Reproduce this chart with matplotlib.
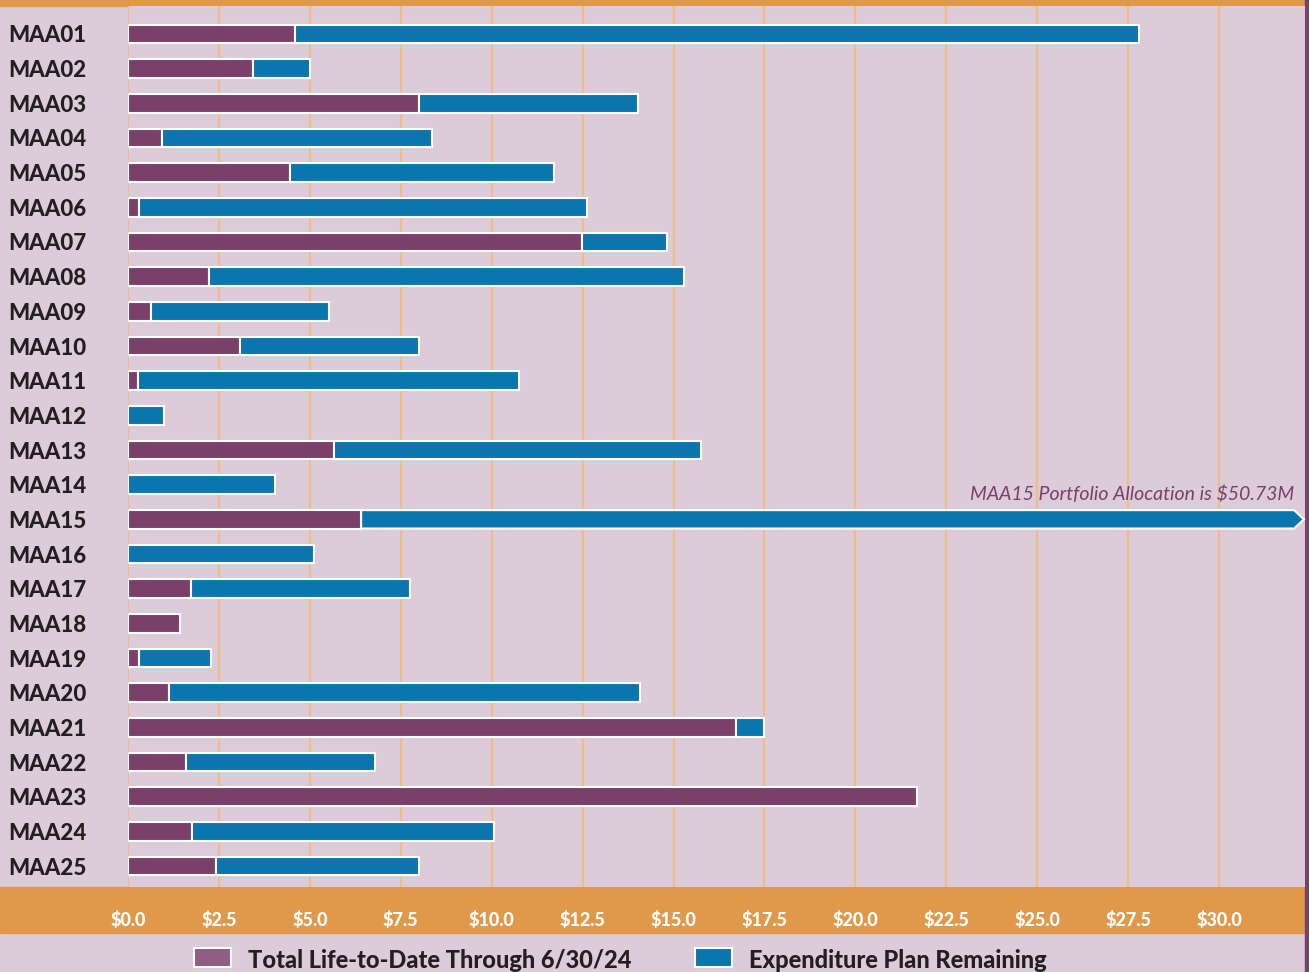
import matplotlib.pyplot as plt
from matplotlib.patches import Rectangle, Polygon

# data ($M)
projects = ["MAA%02d" % i for i in range(1, 26)]
life_to_date = [4.59, 3.44, 8.0, 0.93, 4.45, 0.30, 12.48, 2.23, 0.63, 3.08,
                0.27, 0.0, 5.66, 0.0, 6.41, 0.0, 1.73, 1.43, 0.30, 1.13,
                16.72, 1.59, 21.69, 1.76, 2.42]
total_alloc = [27.8, 5.0, 14.02, 8.36, 11.71, 12.62, 14.82, 15.29, 5.53, 8.0,
               10.75, 0.99, 15.75, 4.04, 50.73, 5.11, 7.75, 1.43, 2.28, 14.08,
               17.49, 6.79, 21.69, 10.06, 8.0]
remaining = [t - l for t, l in zip(total_alloc, life_to_date)]
ticks = [0, 2.5, 5, 7.5, 10, 12.5, 15, 17.5, 20, 22.5, 25, 27.5, 30]
tick_labels = ["$%.1f" % t for t in ticks]

bg = "#dccbd9"
purple = "#7b4069"
purple_leg = "#8f5e82"
blue = "#0b76ae"
orange = "#e0994a"
grid_c = "#efbd88"
dark = "#231f20"
fnt = ["Lato", "DejaVu Sans"]

W, H = 1309, 972
fig = plt.figure(figsize=(W / 100, H / 100), dpi=100, facecolor=bg)

# bands
fig.patches.append(Rectangle((0, 1 - 6 / H), 1, 6 / H, transform=fig.transFigure, color=orange, zorder=-1))
fig.patches.append(Rectangle((0, (H - 933) / H), 1, 46 / H, transform=fig.transFigure, color=orange, zorder=-1))
fig.patches.append(Rectangle((1305 / W, 0), 4 / W, 1, transform=fig.transFigure, color=purple, zorder=-1))

x0, x1, ytop, ybot = 128, 1305, 6, 887
ax = fig.add_axes([x0 / W, (H - ybot) / H, (x1 - x0) / W, (ybot - ytop) / H])
ax.set_facecolor(bg)
ppu = 36.37
xmax = (x1 - x0) / ppu
ax.set_xlim(0, xmax)
sp = (866 - 34) / 24
ax.set_ylim(24 + (ybot - 866) / sp, -(34 - ytop) / sp)

for t in ticks:
    ax.axvline(t, color=grid_c, lw=1.6, zorder=1)

ypos = list(range(len(projects)))
h = 0.53
ax.barh(ypos, life_to_date, height=h, color=purple, edgecolor="white", lw=1.5, zorder=3)
for i, (l, r) in enumerate(zip(life_to_date, remaining)):
    if r <= 0.01:
        continue
    if l + r > xmax:
        # bar runs off the chart: arrow end
        tip = xmax - 0.03
        notch = tip - 0.27
        pts = [(l, i - h / 2), (notch, i - h / 2), (tip, i), (notch, i + h / 2), (l, i + h / 2)]
        ax.add_patch(Polygon(pts, closed=True, facecolor=blue, edgecolor="white", lw=1.5, zorder=3, clip_on=False))
        ax.text(notch, i - 0.72, "MAA15 Portfolio Allocation is $%.2fM" % (l + r), ha="right", va="center",
                fontsize=14, style="italic", color=purple, family=fnt)
    else:
        ax.barh(i, r, left=l, height=h, color=blue, edgecolor="white", lw=1.5, zorder=3)

for s in ax.spines.values():
    s.set_visible(False)
ax.set_xticks(ticks)
ax.set_xticklabels(tick_labels)
ax.tick_params(axis="x", length=0, pad=17, labelcolor="white", labelsize=13)
for lab in ax.get_xticklabels():
    lab.set_fontweight("black")
    lab.set_family(fnt)
ax.set_yticks(ypos)
ax.set_yticklabels(projects)
ax.tick_params(axis="y", length=0, pad=30, labelcolor=dark, labelsize=16)
for lab in ax.get_yticklabels():
    lab.set_fontweight("black")
    lab.set_family(fnt)

# legend
for bx, color, label in [(194, purple_leg, "Total Life-to-Date Through 6/30/24"),
                         (695, blue, "Expenditure Plan Remaining")]:
    fig.patches.append(Rectangle((bx / W, (H - 967) / H), 37 / W, 19 / H, transform=fig.transFigure,
                                 facecolor=color, edgecolor="white", lw=1.5))
    fig.text((bx + 54) / W, (H - 960) / H, label, ha="left", va="center", fontsize=17,
             fontweight="black", color=dark, family=fnt)

fig.savefig("out.png", dpi=100, facecolor=bg)
